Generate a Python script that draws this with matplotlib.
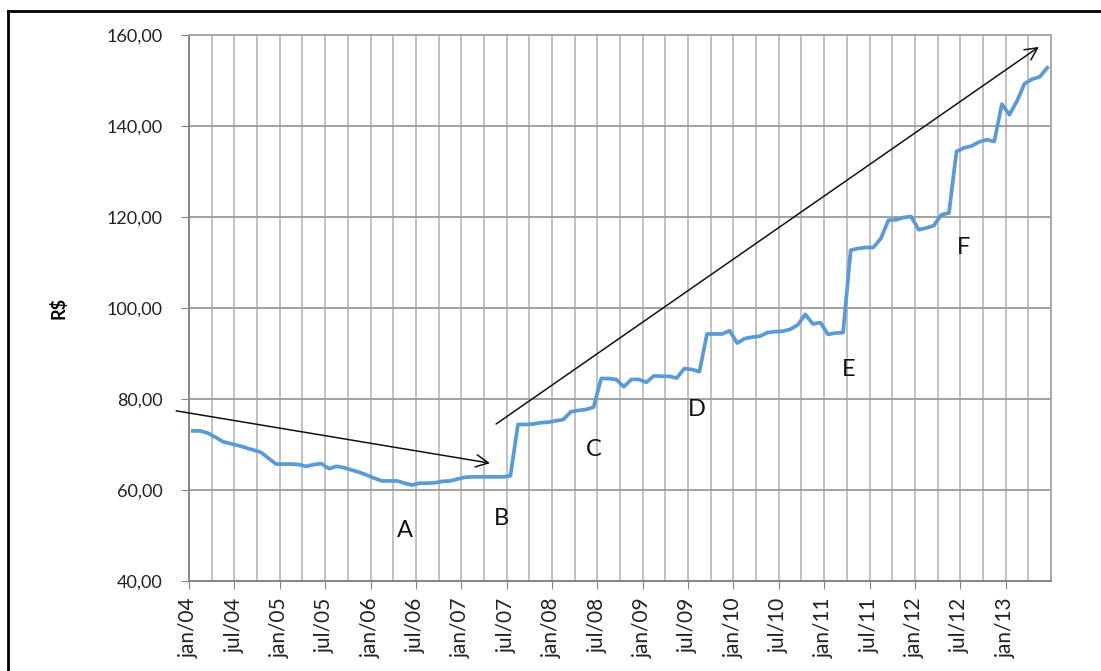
import matplotlib
matplotlib.use('Agg')
import matplotlib.pyplot as plt
from matplotlib.lines import Line2D
import numpy as np

plt.rcParams['font.family'] = ['Lato', 'DejaVu Sans']

# monthly values jan/04 .. jun/13 (R$)
values = [73.0, 73.0, 72.5, 71.6, 70.6, 70.2, 69.8, 69.3, 68.8, 68.3,
          67.0, 65.7, 65.7, 65.7, 65.6, 65.2, 65.6, 65.8, 64.7, 65.2,
          64.9, 64.4, 63.9, 63.3, 62.6, 62.0, 62.0, 62.0, 61.5, 61.1,
          61.5, 61.5, 61.6, 61.9, 62.0, 62.4, 62.8, 62.9, 62.9, 62.9,
          62.9, 62.9, 63.1, 74.4, 74.4, 74.5, 74.8, 74.9, 75.2, 75.5,
          77.2, 77.5, 77.7, 78.2, 84.5, 84.5, 84.3, 82.7, 84.3, 84.3,
          83.7, 85.1, 85.0, 85.0, 84.6, 86.7, 86.5, 86.0, 94.3, 94.3,
          94.3, 95.0, 92.3, 93.3, 93.6, 93.8, 94.6, 94.8, 94.9, 95.3,
          96.3, 98.6, 96.5, 96.8, 94.2, 94.5, 94.6, 112.7, 113.1, 113.3,
          113.3, 115.3, 119.3, 119.4, 119.9, 120.1, 117.2, 117.6, 118.1, 120.5,
          120.9, 134.4, 135.2, 135.6, 136.5, 137.0, 136.6, 144.8, 142.5, 145.5,
          149.3, 150.3, 150.8, 152.8]

tick_labels = ['jan/04', 'jul/04', 'jan/05', 'jul/05', 'jan/06', 'jul/06',
               'jan/07', 'jul/07', 'jan/08', 'jul/08', 'jan/09', 'jul/09',
               'jan/10', 'jul/10', 'jan/11', 'jul/11', 'jan/12', 'jul/12',
               'jan/13']

# letters marking the phases (month index, value)
letters = ['A', 'B', 'C', 'D', 'E', 'F']
letter_x = [28.5, 41.3, 53.5, 67.1, 87.3, 102.5]
letter_y = [51.2, 53.8, 68.8, 77.6, 86.4, 113.2]

# trend arrows: (start x, start y, end x, end y)
arrows = [(-1.7, 77.4, 39.8, 65.9),
          (40.6, 74.5, 112.4, 157.4)]

n = len(values)
x = np.arange(n) + 0.5

fig = plt.figure(figsize=(11.01, 6.71), dpi=100)
ax = fig.add_axes([0.1717, 0.1341, 0.9546 - 0.1717, 0.9478 - 0.1341])

ax.plot(x, values, color='#5b9bd5', lw=2.7, zorder=3)

ax.set_xlim(0, n)
ax.set_ylim(40, 160)
ax.set_yticks(np.arange(40, 161, 20))
ax.set_yticklabels(['%d,00' % v for v in range(40, 161, 20)])
ax.set_xticks(np.arange(0, 6 * len(tick_labels), 6))
ax.set_xticklabels(tick_labels, rotation=90)
ax.set_xticks(np.arange(0, n + 1, 3), minor=True)

ax.grid(True, which='both', axis='x', color='#c0c0c0', lw=1.4)
ax.grid(True, which='major', axis='y', color='#a0a0a0', lw=1.4)
ax.set_axisbelow(True)
ax.tick_params(axis='x', which='minor', length=0)
ax.tick_params(axis='both', which='major', length=6, color='#868686',
               colors='#222222')
ax.tick_params(axis='y', labelsize=13, pad=13)
ax.tick_params(axis='x', labelsize=15, pad=6)
for s in ax.spines.values():
    s.set_color('#a9a9a9')
    s.set_linewidth(1.4)
ax.spines['left'].set_color('#868686')
ax.spines['bottom'].set_color('#868686')

ax.set_ylabel('R$', fontsize=13, fontweight='bold', labelpad=28)

for t, lx, ly in zip(letters, letter_x, letter_y):
    ax.text(lx, ly, t, fontsize=17, ha='center', va='center', color='#111111')

for x0, y0, x1, y1 in arrows:
    ax.annotate('', xy=(x1, y1), xytext=(x0, y0), annotation_clip=False,
                arrowprops=dict(arrowstyle='->', color='#111111', lw=1.1,
                                mutation_scale=22, shrinkA=0, shrinkB=0))

# outer frame of the figure
fig.add_artist(Line2D([8 / 1101, 8 / 1101], [0, 1 - 11 / 671], color='black', lw=2))
fig.add_artist(Line2D([8 / 1101, 1], [1 - 11 / 671, 1 - 11 / 671], color='black', lw=2))

fig.savefig('out.png', dpi=100)
